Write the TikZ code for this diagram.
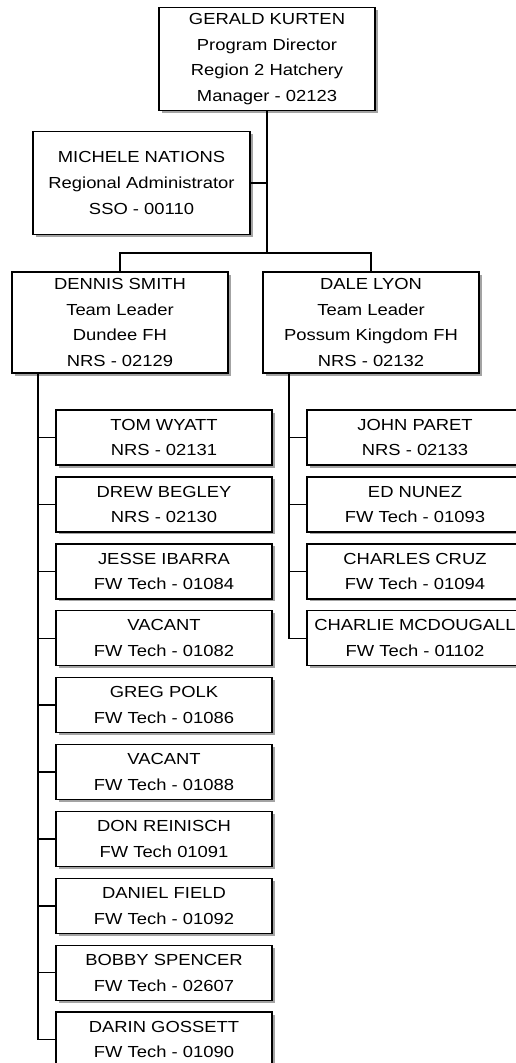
\documentclass[tikz,border=0pt]{standalone}
\usepackage{fontspec}
\setmainfont[FakeStretch=1.15]{Liberation Sans}
\usetikzlibrary{positioning, shadows}

\begin{document}
\begin{tikzpicture}[
  x=1pt, y=-1pt,
  node distance=10.5pt,
  person/.style={rectangle, draw=black, fill=white, line width=1.4pt,
                 drop shadow={shadow xshift=2.5pt, shadow yshift=-2.5pt, fill=black!45, opacity=0.8},
                 align=center, inner xsep=2pt, minimum width=216pt,
                 font=\fontsize{16}{25.6}\selectfont},
  lead/.style={person, minimum height=103pt},
  staff/.style={person, minimum height=55pt},
  link/.style={line width=1.4pt}
]
\useasboundingbox (0,0) rectangle (515,1063);

\node[lead] (director) at (267,59)     {GERALD KURTEN\\Program Director\\Region 2 Hatchery\\Manager - 02123};
\node[lead, minimum width=217pt] (admin) at (141.5,183) {MICHELE NATIONS\\Regional Administrator\\SSO - 00110};

\node[lead, minimum height=101pt] (dennis) at (120,322.5) {DENNIS SMITH\\Team Leader\\Dundee FH\\NRS - 02129};
\node[lead, minimum height=101pt] (dale)   at (371,322.5) {DALE LYON\\Team Leader\\Possum Kingdom FH\\NRS - 02132};

% Dundee FH staff
\node[staff] (tom) at (164,437.5)     {TOM WYATT\\NRS - 02131};
\node[staff, below=of tom]   (drew)   {DREW BEGLEY\\NRS - 02130};
\node[staff, below=of drew]  (jesse)  {JESSE IBARRA\\FW Tech - 01084};
\node[staff, below=of jesse] (vacA)   {VACANT\\FW Tech - 01082};
\node[staff, below=of vacA]  (greg)   {GREG POLK\\FW Tech - 01086};
\node[staff, below=of greg]  (vacB)   {VACANT\\FW Tech - 01088};
\node[staff, below=of vacB]  (don)    {DON REINISCH\\FW Tech 01091};
\node[staff, below=of don]   (daniel) {DANIEL FIELD\\FW Tech - 01092};
\node[staff, below=of daniel](bobby)  {BOBBY SPENCER\\FW Tech - 02607};
\node[staff, below=of bobby] (darin)  {DARIN GOSSETT\\FW Tech - 01090};

% Possum Kingdom FH staff
\node[staff] (john) at (415,437.5)     {JOHN PARET\\NRS - 02133};
\node[staff, below=of john]    (ed)     {ED NUNEZ\\FW Tech - 01093};
\node[staff, below=of ed]      (cruz)   {CHARLES CRUZ\\FW Tech - 01094};
\node[staff, below=of cruz]    (mcd)    {CHARLIE MCDOUGALL\\FW Tech - 01102};

\coordinate (bus)   at (267,253);
\coordinate (dtrunk) at (38,373);
\coordinate (ltrunk) at (289,373);

\draw[link] (director.south) -- (bus);
\draw[link] (admin.east) -- (admin.east -| bus);
\draw[link] (dennis.north) |- (bus) -| (dale.north);

\foreach \k in {tom, drew, jesse, vacA, greg, vacB, don, daniel, bobby, darin}
  \draw[link] (dtrunk) |- (\k.west);
\foreach \k in {john, ed, cruz, mcd}
  \draw[link] (ltrunk) |- (\k.west);

\end{tikzpicture}
\end{document}
